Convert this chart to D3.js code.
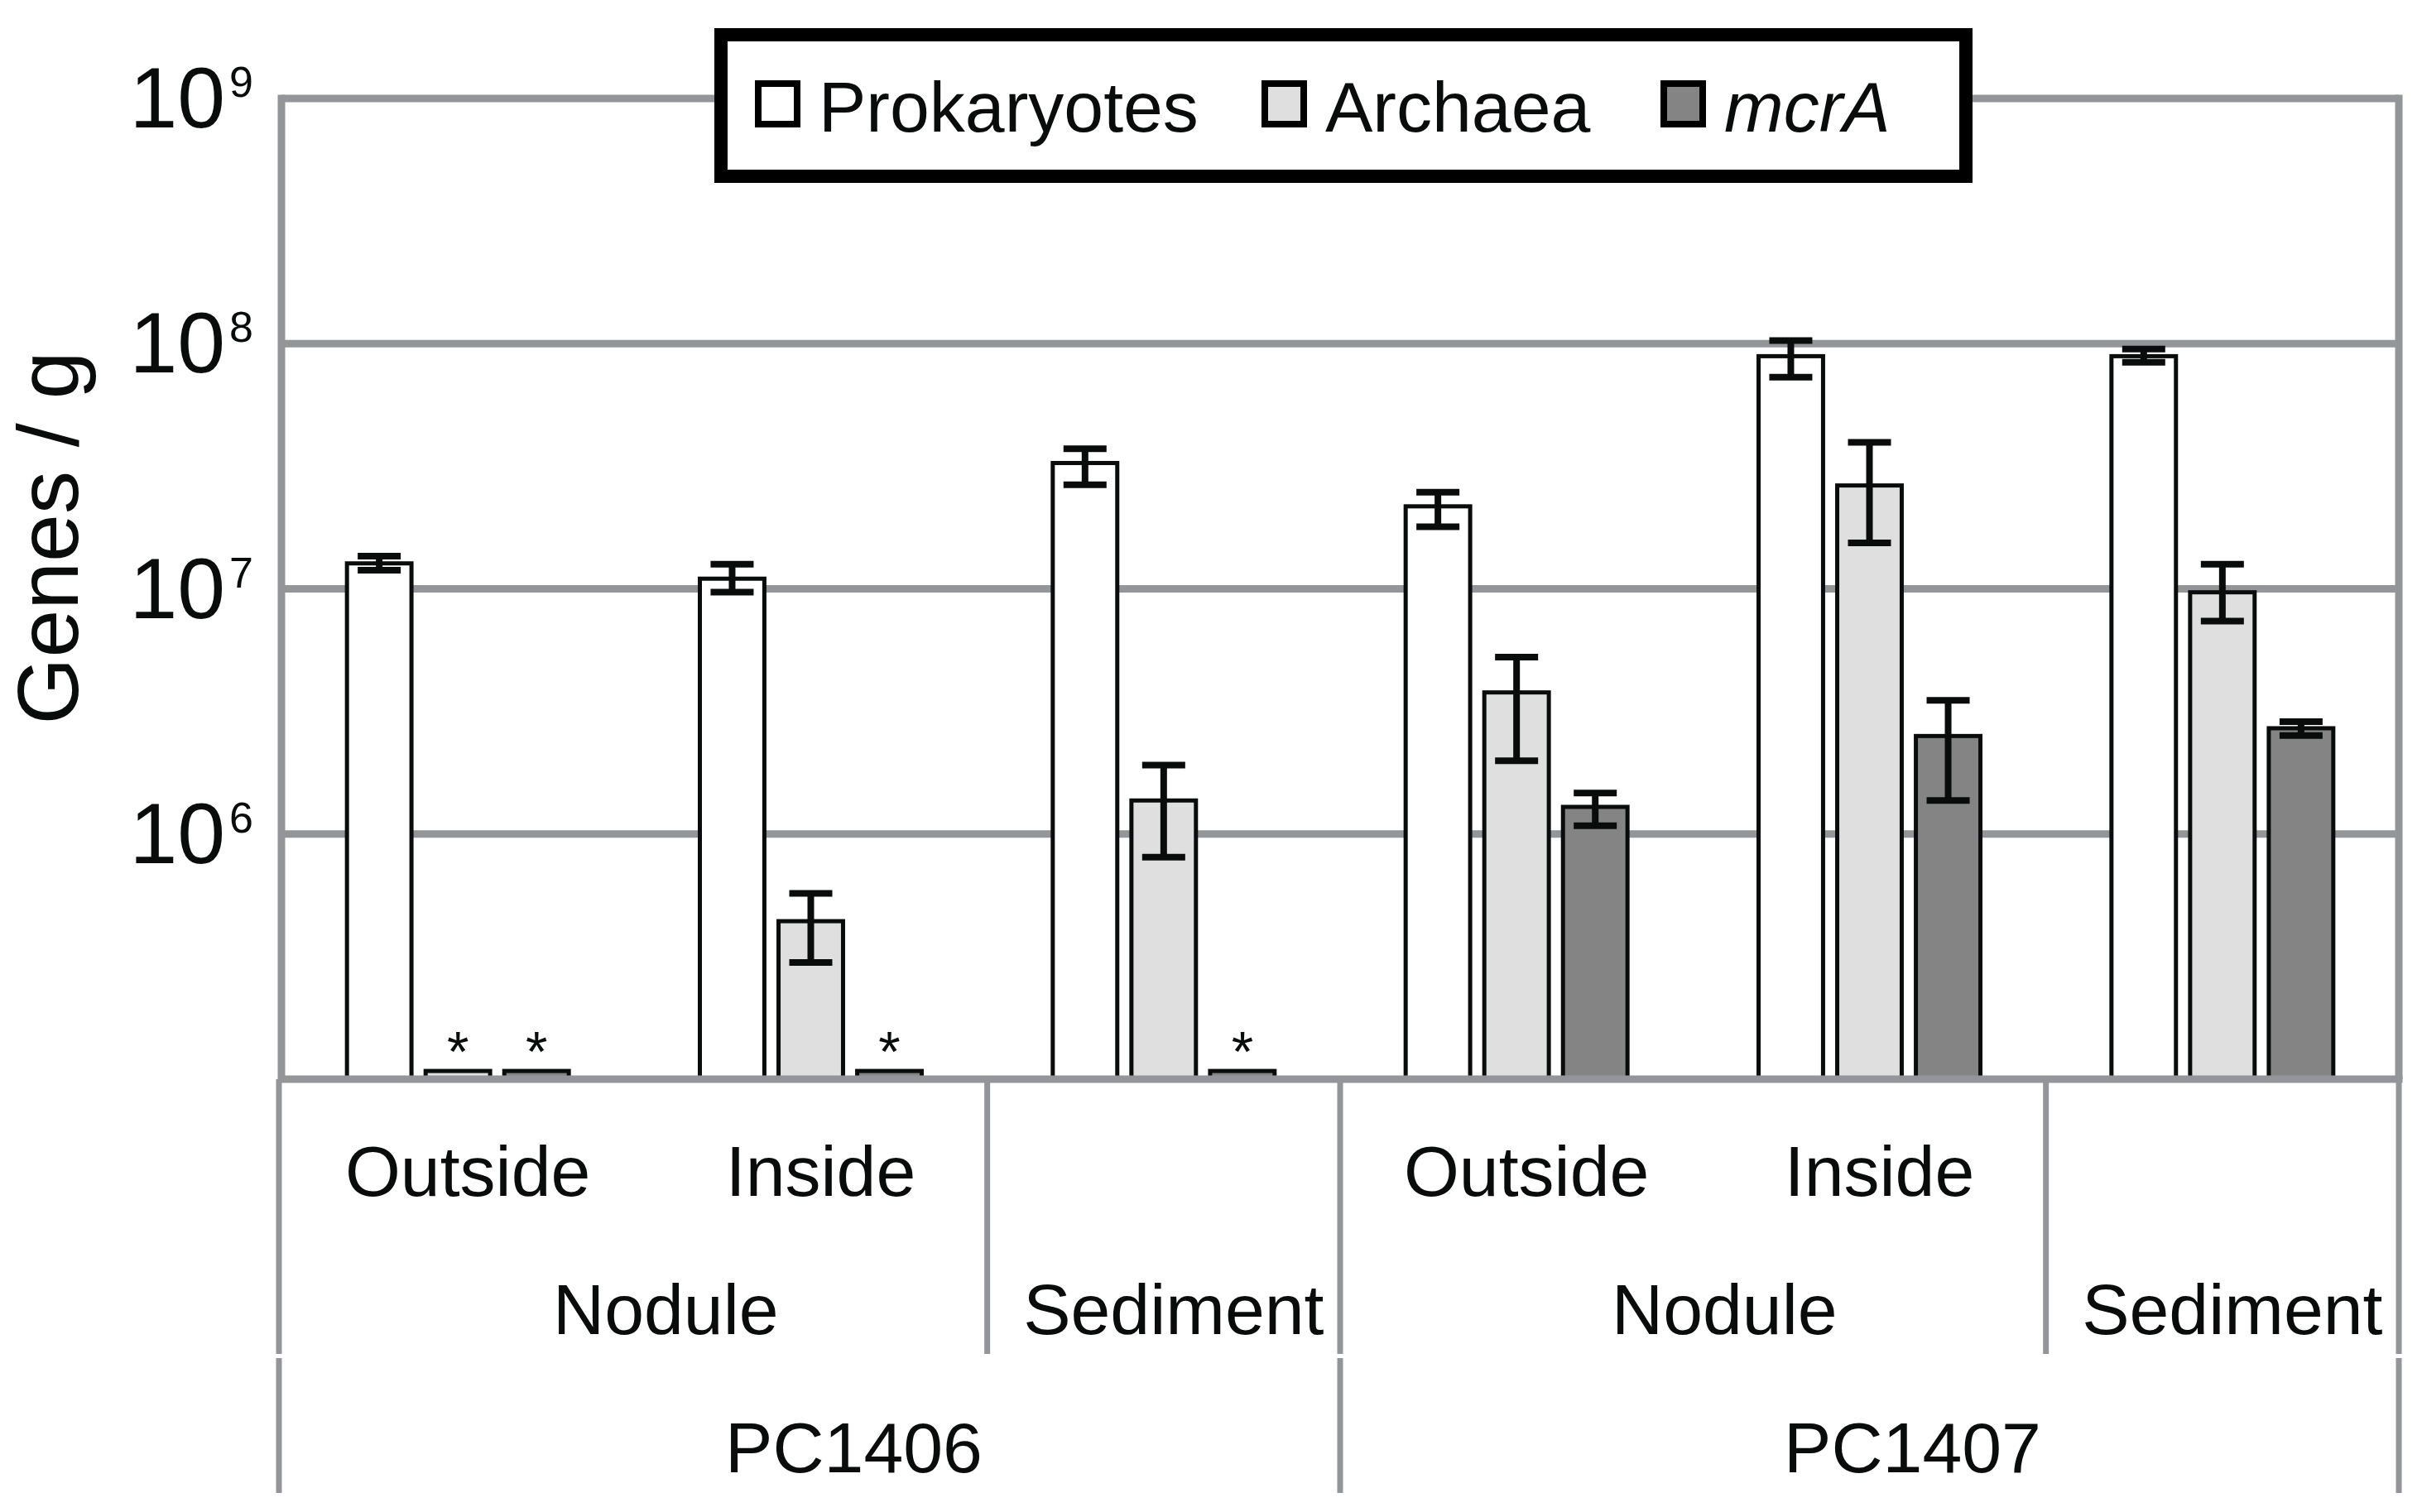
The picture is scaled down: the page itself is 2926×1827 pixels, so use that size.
<!DOCTYPE html>
<html>
<head>
<meta charset="utf-8">
<script src="https://cdn.jsdelivr.net/npm/d3@7"></script>
<style>
  html, body { margin: 0; padding: 0; background: #fff; }
  text { font-family: "Liberation Sans", Arial, sans-serif; fill: #0a0c0c; }
</style>
</head>
<body>
<svg id="chart" width="2926" height="1827"></svg>
<script>
// ---------- data ----------
const groupIds = ["g1", "g2", "g3", "g4", "g5", "g6"];
const level1Labels = ["Outside", "Inside", "", "Outside", "Inside", ""];
const level2Labels = [{ label: "Nodule", from: 0, to: 1 }, { label: "Sediment", from: 2, to: 2 },
                      { label: "Nodule", from: 3, to: 4 }, { label: "Sediment", from: 5, to: 5 }];
const level3Labels = [{ label: "PC1406", from: 0, to: 2 }, { label: "PC1407", from: 3, to: 5 }];

const seriesNames = ["Prokaryotes", "Archaea", "mcrA"];
const seriesFill = ["#ffffff", "#dfdfdf", "#848484"];

// null = below detection (shown as a minimal bar marked with *)
const prokaryotes   = [1.27e7, 1.10e7, 3.26e7, 2.17e7, 8.89e7, 8.89e7];
const prokaryotesLo = [1.19e7, 9.7e6, 2.66e7, 1.79e7, 7.3e7, 8.4e7];
const prokaryotesHi = [1.36e7, 1.26e7, 3.73e7, 2.48e7, 1.03e8, 9.5e7];
const archaea   = [null, 4.41e5, 1.37e6, 3.78e6, 2.64e7, 9.68e6];
const archaeaLo = [null, 2.99e5, 8.05e5, 1.99e6, 1.54e7, 7.38e6];
const archaeaHi = [null, 5.73e5, 1.91e6, 5.27e6, 3.96e7, 1.26e7];
const mcrA   = [null, null, null, 1.29e6, 2.51e6, 2.70e6];
const mcrALo = [null, null, null, 1.08e6, 1.37e6, 2.52e6];
const mcrAHi = [null, null, null, 1.47e6, 3.51e6, 2.87e6];
const detectionFloor = 1.08e5;

const yTicks = [1e6, 1e7, 1e8, 1e9];
const yDomain = [1e5, 1e9];

const seriesValues = [prokaryotes, archaea, mcrA];
const seriesLo = [prokaryotesLo, archaeaLo, mcrALo];
const seriesHi = [prokaryotesHi, archaeaHi, mcrAHi];

// ---------- layout ----------
const svg = d3.select("#chart");
svg.append("rect").attr("width", 2926).attr("height", 1827).attr("fill", "#fff");

const plotL = 340, plotR = 2898, plotT = 119, plotB = 1304;
const gridColor = "#939598";

const y = d3.scaleLog().domain(yDomain).range([plotB, plotT]);
const xg = d3.scaleBand().domain(groupIds).range([plotL, plotR]).padding(0);
const xs = d3.scaleBand().domain(seriesNames).range([-134, 134]).paddingInner(0.18).paddingOuter(0);

// gridlines
svg.append("g").selectAll("line").data(yTicks).join("line")
  .attr("x1", plotL).attr("x2", plotR)
  .attr("y1", d => y(d)).attr("y2", d => y(d))
  .attr("stroke", gridColor).attr("stroke-width", 9);
// right border
svg.append("line").attr("x1", plotR).attr("x2", plotR).attr("y1", y(1e9) - 4.5).attr("y2", plotB)
  .attr("stroke", gridColor).attr("stroke-width", 9);

// bars
const barData = [];
seriesNames.forEach((s, si) => {
  groupIds.forEach((g, gi) => {
    const v = seriesValues[si][gi];
    barData.push({
      s, si, g, gi,
      value: v === null ? detectionFloor : v,
      star: v === null,
      lo: seriesLo[si][gi], hi: seriesHi[si][gi]
    });
  });
});

const barX = d => xg(d.g) + xg.bandwidth() / 2 + xs(d.s);

svg.append("g").selectAll("rect").data(barData).join("rect")
  .attr("x", d => barX(d))
  .attr("width", xs.bandwidth())
  .attr("y", d => y(d.value))
  .attr("height", d => plotB - y(d.value))
  .attr("fill", d => seriesFill[d.si])
  .attr("stroke", "#0a0c0c").attr("stroke-width", 5);

// stars
svg.append("g").selectAll("text").data(barData.filter(d => d.star)).join("text")
  .attr("x", d => barX(d) + xs.bandwidth() / 2)
  .attr("y", d => y(d.value))
  .attr("text-anchor", "middle")
  .attr("font-size", 68)
  .text("*");

// error bars
const errData = barData.filter(d => !d.star && d.lo !== null);
const eg = svg.append("g").attr("stroke", "#0a0c0c").attr("stroke-width", 8);
errData.forEach(d => {
  const cx = barX(d) + xs.bandwidth() / 2;
  eg.append("line").attr("x1", cx).attr("x2", cx).attr("y1", y(d.hi)).attr("y2", y(d.lo));
  eg.append("line").attr("x1", cx - 26).attr("x2", cx + 26).attr("y1", y(d.hi)).attr("y2", y(d.hi));
  eg.append("line").attr("x1", cx - 26).attr("x2", cx + 26).attr("y1", y(d.lo)).attr("y2", y(d.lo));
});

// y axis line and x axis line
svg.append("line").attr("x1", plotL).attr("x2", plotL).attr("y1", y(1e9) - 4.5).attr("y2", plotB)
  .attr("stroke", gridColor).attr("stroke-width", 9);
svg.append("line").attr("x1", plotL - 4).attr("x2", plotR + 4.5).attr("y1", plotB).attr("y2", plotB)
  .attr("stroke", gridColor).attr("stroke-width", 9);

// y tick labels 10^n
const tl = svg.append("g").selectAll("text").data(yTicks).join("text")
  .attr("x", 306).attr("y", d => y(d) + 35)
  .attr("text-anchor", "end").attr("font-size", 104);
tl.append("tspan").text("10");
tl.append("tspan").attr("font-size", 52).attr("dx", 5).attr("dy", -37)
  .text(d => Math.round(Math.log10(d)));

// y axis title
svg.append("text")
  .attr("transform", "translate(94,650) rotate(-90)")
  .attr("text-anchor", "middle").attr("font-size", 104)
  .text("Genes / g");

// ---------- multi-level category axis ----------
const catColor = gridColor;
const edge = i => xg.range()[0] + i * xg.step();
const row1Top = 1304, row1Bot = 1636, row2Top = 1641, row2Bot = 1804;
const leftEdgeX = 337;
const sepRow12 = [leftEdgeX, edge(2), edge(3), edge(5), plotR];
svg.append("g").selectAll("line").data(sepRow12).join("line")
  .attr("x1", d => d).attr("x2", d => d).attr("y1", row1Top).attr("y2", row1Bot)
  .attr("stroke", catColor).attr("stroke-width", 7);
const sepRow3 = [leftEdgeX, edge(3), plotR];
svg.append("g").selectAll("line").data(sepRow3).join("line")
  .attr("x1", d => d).attr("x2", d => d).attr("y1", row2Top).attr("y2", row2Bot)
  .attr("stroke", catColor).attr("stroke-width", 7);

const spanCenter = (a, b) => (edge(a) + edge(b + 1)) / 2;
const spanOffset = n => [12, 38, 52][n - 1];

svg.append("g").selectAll("text").data(level1Labels.map((l, i) => ({ l, i })).filter(d => d.l)).join("text")
  .attr("x", d => spanCenter(d.i, d.i) + spanOffset(1)).attr("y", 1445)
  .attr("text-anchor", "middle").attr("font-size", 86).text(d => d.l);
svg.append("g").selectAll("text").data(level2Labels).join("text")
  .attr("x", d => spanCenter(d.from, d.to) + spanOffset(d.to - d.from + 1)).attr("y", 1612)
  .attr("text-anchor", "middle").attr("font-size", 86).text(d => d.label);
svg.append("g").selectAll("text").data(level3Labels).join("text")
  .attr("x", d => spanCenter(d.from, d.to) + spanOffset(d.to - d.from + 1)).attr("y", 1779)
  .attr("text-anchor", "middle").attr("font-size", 86).text(d => d.label);

// ---------- legend ----------
const lg = svg.append("g");
lg.append("rect").attr("x", 871).attr("y", 42).attr("width", 1504).attr("height", 171)
  .attr("fill", "#fff").attr("stroke", "#000").attr("stroke-width", 16);
const legendX = [912, 1524, 2006];
seriesNames.forEach((s, i) => {
  lg.append("rect").attr("x", legendX[i] + 4).attr("y", 101).attr("width", 47).attr("height", 49)
    .attr("fill", seriesFill[i]).attr("stroke", "#000").attr("stroke-width", 8);
  lg.append("text").attr("x", legendX[i] + 77).attr("y", 159).attr("font-size", 86)
    .attr("font-style", s === "mcrA" ? "italic" : "normal").text(s);
});
</script>
</body>
</html>
